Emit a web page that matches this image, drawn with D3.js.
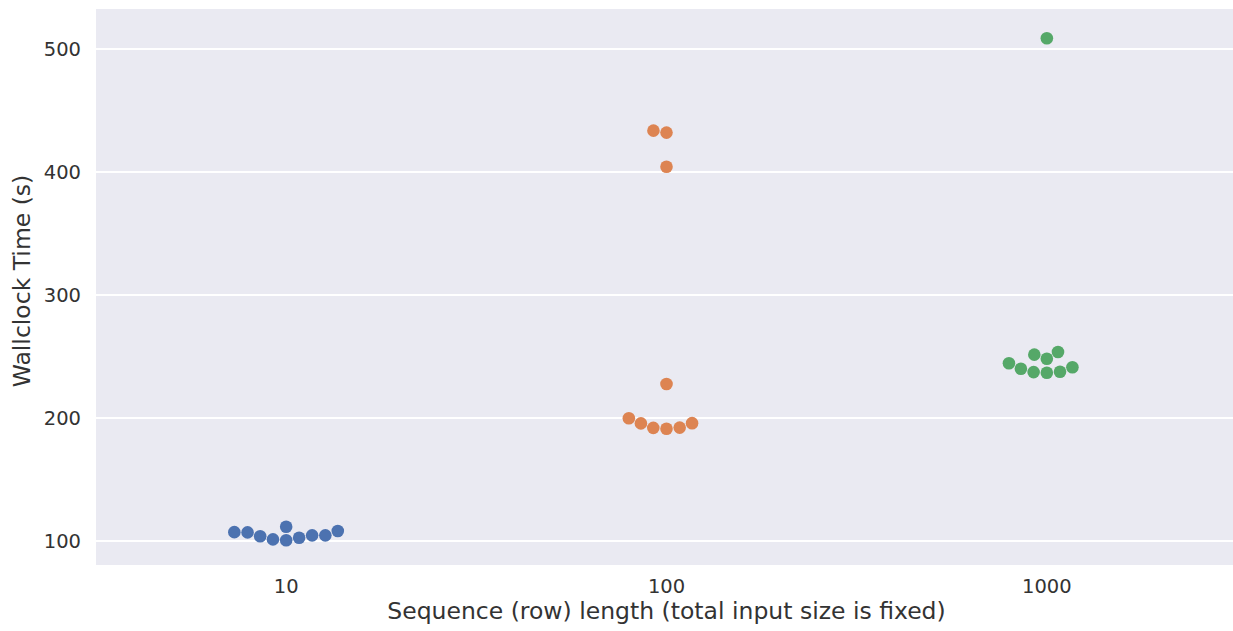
<!DOCTYPE html>
<html>
<head>
<meta charset="utf-8">
<script src="https://cdn.jsdelivr.net/npm/d3@7"></script>
<style>
  body { margin: 0; background: #fff; }
  text { font-family: "DejaVu Sans", sans-serif; fill: #333; }
</style>
</head>
<body>
<div id="chart-area"></div>
<script>
// data
const categories = ["10", "100", "1000"]
const times10 = [100.6, 101.3, 102.7, 103.9, 104.6, 104.6, 107.0, 107.2, 108.1, 111.6]
const times100 = [191.3, 192.0, 192.2, 195.6, 195.8, 199.8, 227.6, 404.3, 432.0, 433.6]
const times1000 = [236.8, 237.3, 237.6, 240.1, 241.2, 244.5, 248.2, 251.5, 253.7, 508.7]
const yTicks = [100, 200, 300, 400, 500]
const colors = ["#4c72b0", "#dd8452", "#55a868"]

const W = 1233
const H = 631
const PLOT = { LEFT: 96, RIGHT: 1237, TOP: 9, BOTTOM: 565 }
const R = 6.3

const svg = d3.select("#chart-area").append("svg")
  .attr("width", W)
  .attr("height", H)

// plot background
svg.append("rect")
  .attr("x", PLOT.LEFT)
  .attr("y", PLOT.TOP)
  .attr("width", PLOT.RIGHT - PLOT.LEFT)
  .attr("height", PLOT.BOTTOM - PLOT.TOP)
  .attr("fill", "#eaeaf2")

const x = d3.scaleBand()
  .domain(categories)
  .range([PLOT.LEFT, PLOT.RIGHT])

const y = d3.scaleLinear()
  .domain([80.5, 532.5])
  .range([PLOT.BOTTOM, PLOT.TOP])

// horizontal grid
svg.append("g")
  .selectAll("line")
  .data(yTicks)
  .enter().append("line")
    .attr("x1", PLOT.LEFT)
    .attr("x2", PLOT.RIGHT)
    .attr("y1", d => y(d))
    .attr("y2", d => y(d))
    .attr("stroke", "#fff")
    .attr("stroke-width", 1.8)

// y axis (no line, no ticks - just labels like seaborn)
const yAxis = svg.append("g")
  .attr("transform", `translate(${PLOT.LEFT}, 0)`)
  .call(d3.axisLeft(y).tickValues(yTicks).tickSize(0).tickPadding(15))
yAxis.select(".domain").remove()
yAxis.selectAll("text").attr("font-size", "19.5px").attr("font-family", null).attr("fill", null)

const xAxis = svg.append("g")
  .attr("transform", `translate(0, ${PLOT.BOTTOM})`)
  .call(d3.axisBottom(x).tickSize(0).tickPadding(14))
xAxis.select(".domain").remove()
xAxis.selectAll("text").attr("font-size", "19.5px").attr("font-family", null).attr("fill", null)

// axis labels
svg.append("text")
  .attr("x", (PLOT.LEFT + PLOT.RIGHT) / 2)
  .attr("y", 619)
  .attr("font-size", "23.5px")
  .attr("text-anchor", "middle")
  .text("Sequence (row) length (total input size is fixed)")

svg.append("text")
  .attr("transform", `translate(30, ${(PLOT.TOP + PLOT.BOTTOM) / 2 - 6}) rotate(-90)`)
  .attr("font-size", "23.5px")
  .attr("text-anchor", "middle")
  .text("Wallclock Time (s)")

// seaborn-like beeswarm: place points in value order, nearest free spot to the midline
function swarm(values, cx) {
  const d = 2 * R
  const pts = values.map(v => ({ v: v, py: y(v) }))
    .sort((a, b) => a.v - b.v)
  const placed = []
  pts.forEach(p => {
    const near = placed.filter(q => Math.abs(q.py - p.py) < d)
    let cands = [cx]
    near.forEach(q => {
      const dx = Math.sqrt(Math.max(d * d - (p.py - q.py) ** 2, 0)) * 1.05
      cands.push(q.px + dx, q.px - dx)
    })
    cands.sort((a, b) => (Math.abs(a - cx) - Math.abs(b - cx)) || (a - b))
    const ok = cands.find(c => near.every(q => Math.hypot(c - q.px, p.py - q.py) >= d - 1e-6))
    p.px = ok
    placed.push(p)
  })
  return placed
}

const groups = [times10, times100, times1000]
groups.forEach((vals, i) => {
  const cx = x(categories[i]) + x.bandwidth() / 2
  svg.append("g")
    .selectAll("circle")
    .data(swarm(vals, cx))
    .enter().append("circle")
      .attr("cx", d => d.px)
      .attr("cy", d => d.py)
      .attr("r", R)
      .attr("fill", colors[i])
})
</script>
</body>
</html>
